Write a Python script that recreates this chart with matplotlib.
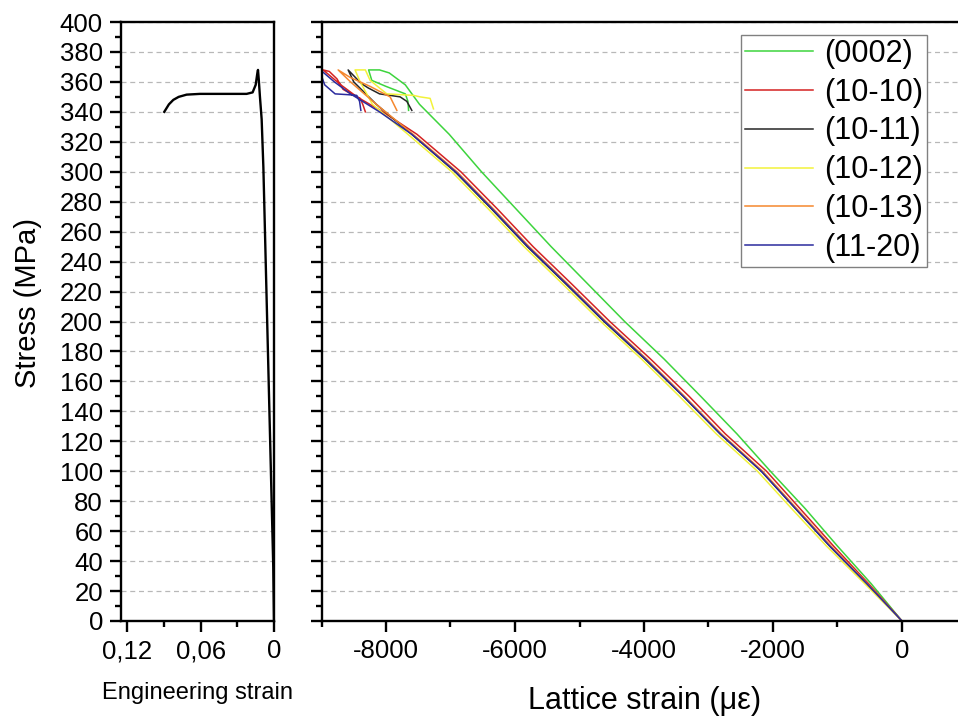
import numpy as np
import matplotlib
matplotlib.use('Agg')
import matplotlib.pyplot as plt
from matplotlib.ticker import MultipleLocator

plt.rcParams['font.family'] = ['Liberation Sans', 'DejaVu Sans']
plt.rcParams['axes.unicode_minus'] = False

# ── Data ──────────────────────────────────────────────────────────────────────

# macroscopic curve (engineering strain, stress)
eng_strain = [0, 0.0006, 0.0033, 0.0060, 0.0087, 0.0101, 0.0115, 0.0125, 0.0131,
              0.0136, 0.0150, 0.0175, 0.0224, 0.0400, 0.0606, 0.0715, 0.0780,
              0.0824, 0.0860, 0.0898]
eng_stress = [0, 36, 125, 214, 303, 335, 350, 362, 368,
              366, 358, 353, 352, 352, 352, 351.5, 350,
              348, 345, 340]

labels = ['(0002)', '(10-10)', '(10-11)', '(10-12)', '(10-13)', '(11-20)']
colours = ['#3dd43d', '#d42222', '#262626', '#f2f23a', '#f5872e', '#2b2b9e']

green_strain = [0, -480, -1000, -1500, -2040, -2560, -3120, -3690, -4300, -4870,
                -5440, -5980, -6520, -7020, -7480, -7700, -7950,
                -8100, -8270, -8220, -8000, -7700, -7660, -7650]
green_stress = [0, 25, 50, 75, 100, 125, 150, 175, 200, 225,
                250, 275, 300, 325, 345, 358, 366,
                368, 368, 361, 357, 352, 347, 341]

red_strain = [0, -520, -1060, -1580, -2100, -2740, -3300, -3900, -4530, -5120,
              -5720, -6270, -6840, -7520, -8050, -8450, -8700, -8975, -8880,
              -8760, -8665, -8500, -8400, -8360, -8320]
red_stress = [0, 25, 50, 75, 100, 125, 150, 175, 200, 225,
              250, 275, 300, 325, 340, 350, 358, 368, 367,
              362, 355, 351, 349, 345, 340]

black_strain = [0, -550, -1120, -1650, -2180, -2820, -3390, -3990, -4620, -5210,
                -5810, -6360, -6930, -7600, -8150, -8500, -8587, -8386, -8277,
                -8100, -7936, -7781, -7677, -7600]
black_stress = [0, 25, 50, 75, 100, 125, 150, 175, 200, 225,
                250, 275, 300, 325, 345, 360, 368, 359, 356,
                352, 351, 350, 347, 341]

yellow_strain = [0, -580, -1170, -1710, -2240, -2880, -3450, -4040, -4670, -5260,
                 -5860, -6410, -6980, -7660, -8210, -8400, -8480, -8320, -8246,
                 -7987, -7574, -7471, -7316, -7264]
yellow_stress = [0, 25, 50, 75, 100, 125, 150, 175, 200, 225,
                 250, 275, 300, 325, 345, 360, 368, 368, 361,
                 352, 351, 350, 349, 342]

orange_strain = [0, -540, -1100, -1630, -2160, -2800, -3370, -3960, -4590, -5180,
                 -5780, -6330, -6900, -7580, -8150, -8550, -8742, -8556, -8246,
                 -7936, -7890, -7832]
orange_stress = [0, 25, 50, 75, 100, 125, 150, 175, 200, 225,
                 250, 275, 300, 325, 345, 360, 368, 363, 357,
                 350, 346, 341]

blue_strain = [0, -547, -1120, -1650, -2180, -2820, -3390, -3980, -4610, -5200,
               -5800, -6350, -6920, -7600, -8100, -8550, -8800, -8990, -9000,
               -8950, -8789, -8600, -8453, -8410, -8390]
blue_stress = [0, 25, 50, 75, 100, 125, 150, 175, 200, 225,
               250, 275, 300, 325, 340, 352, 360, 367, 364,
               358, 352, 351.5, 351, 347, 341]

lattice = [(green_strain, green_stress), (red_strain, red_stress),
           (black_strain, black_stress), (yellow_strain, yellow_stress),
           (orange_strain, orange_stress), (blue_strain, blue_stress)]

# ── Figure ────────────────────────────────────────────────────────────────────

W, H = 958, 720
fig = plt.figure(figsize=(W / 100, H / 100), dpi=100)

ax1 = fig.add_axes([121 / W, 1 - 621 / H, (274 - 121) / W, (621 - 22) / H])
ax2 = fig.add_axes([321.5 / W, 1 - 621 / H, (966.5 - 321.5) / W, (621 - 22) / H])

grid_kw = dict(linestyle=(0, (4, 3)), color='#b8b8b8', linewidth=0.9)

for ax in (ax1, ax2):
    ax.set_ylim(0, 400)
    ax.yaxis.set_major_locator(MultipleLocator(20))
    ax.yaxis.set_minor_locator(MultipleLocator(10))
    ax.yaxis.grid(True, which='major', **grid_kw)
    ax.set_axisbelow(True)
    for sp in ax.spines.values():
        sp.set_linewidth(1.7)
    ax.tick_params(which='major', direction='out', length=8, width=1.7,
                   labelsize=18.5, pad=5, top=False, right=False)
    ax.tick_params(which='minor', direction='out', length=4, width=1.7,
                   top=False, right=False)

# left panel: engineering curve
ax1.plot(eng_strain, eng_stress, color='black', linewidth=1.7)
ax1.set_xlim(0.1252, 0)
ax1.set_xticks([0.12, 0.06, 0])
ax1.set_xticklabels(['0,12', '0,06', '0'])
ax1.xaxis.set_minor_locator(MultipleLocator(0.03))

# right panel: lattice strains
for (xs, ys), lab, col in zip(lattice, labels, colours):
    ax2.plot(xs, ys, color=col, linewidth=1.1, label=lab)
ax2.set_xlim(-9000, 1000)
ax2.xaxis.set_major_locator(MultipleLocator(2000))
ax2.xaxis.set_minor_locator(MultipleLocator(1000))
ax2.tick_params(axis='y', labelleft=False)
ax2.spines['right'].set_visible(False)

leg = ax2.legend(loc='upper right', bbox_to_anchor=(926.7 / W, 1 - 35 / H),
                 bbox_transform=fig.transFigure, borderaxespad=0,
                 fontsize=22, handlelength=2.25, handletextpad=0.35,
                 labelspacing=0.29, borderpad=0.12, fancybox=False,
                 framealpha=1)
leg.get_frame().set_edgecolor('#808080')
leg.get_frame().set_linewidth(1.0)

fig.text(28 / W, 1 - 303 / H, 'Stress (MPa)', rotation=90, fontsize=21,
         ha='center', va='center')
fig.text(197.5 / W, 1 - 693 / H, 'Engineering strain', fontsize=17,
         ha='center', va='center')
fig.text(645 / W, 1 - 701 / H, 'Lattice strain (\u03bc\u03b5)', fontsize=22,
         ha='center', va='center')

fig.savefig('out.png', dpi=100)
